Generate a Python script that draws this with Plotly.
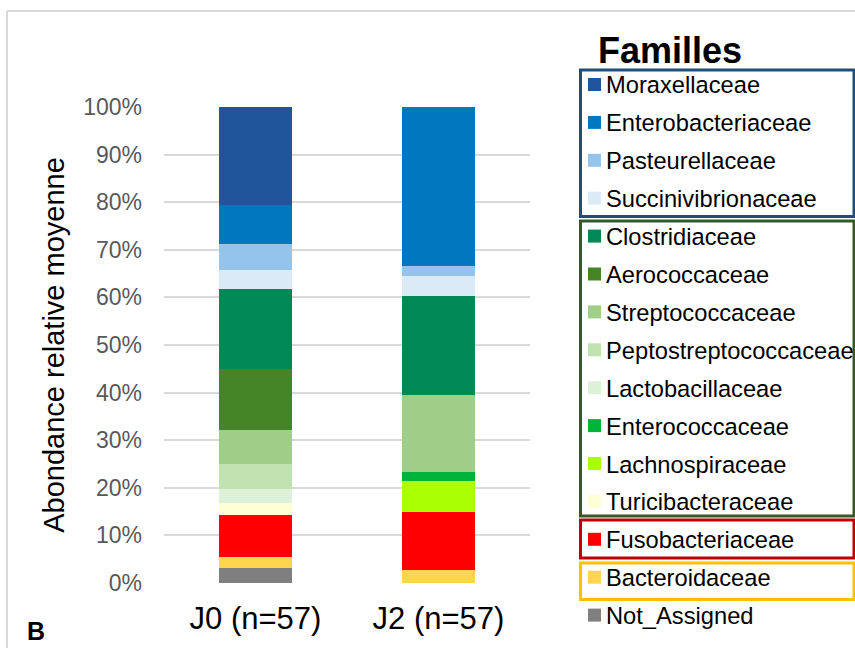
import plotly.graph_objects as go

categories = ["J0 (n=57)", "J2 (n=57)"]

# Families listed top-of-legend first
families = [
    "Moraxellaceae", "Enterobacteriaceae", "Pasteurellaceae", "Succinivibrionaceae",
    "Clostridiaceae", "Aerococcaceae", "Streptococcaceae", "Peptostreptococcaceae",
    "Lactobacillaceae", "Enterococcaceae", "Lachnospiraceae", "Turicibacteraceae",
    "Fusobacteriaceae", "Bacteroidaceae", "Not_Assigned",
]
colors = [
    "#1F559B", "#0077BE", "#95C4EA", "#DAEBF7",
    "#008855", "#468428", "#9FCF87", "#BFE2B0",
    "#DFF0D8", "#00B33B", "#AAFF00", "#FFFFD6",
    "#FF0000", "#FFD54F", "#7F7F7F",
]
# mean relative abundance (%) for J0 and J2
j0_values = [20.5, 8.3, 5.4, 4.0, 16.8, 12.8, 7.2, 5.2, 2.9, 0.0, 0.0, 2.7, 8.8, 2.2, 3.2]
j2_values = [0.0, 33.3, 2.3, 4.0, 20.8, 0.0, 16.2, 0.0, 0.0, 1.9, 6.5, 0.0, 12.2, 2.8, 0.0]

y_ticks = [0, 10, 20, 30, 40, 50, 60, 70, 80, 90, 100]
y_tick_labels = [f"{t}%" for t in y_ticks]

W, H = 855, 648
L, R, T, B = 164, 530, 107, 583  # plot area in pixels


def px(x):
    return (x - L) / (R - L)


def py(y):
    return (B - y) / (B - T)


fig = go.Figure()
# stack from the bottom (Not_Assigned) to the top (Moraxellaceae)
for name, col, a, b in reversed(list(zip(families, colors, j0_values, j2_values))):
    fig.add_trace(go.Bar(
        x=categories, y=[a, b], name=name,
        marker=dict(color=col, line=dict(width=0)),
        showlegend=False,
    ))

shapes = []
annotations = []

# frame lines
shapes.append(dict(type="line", xref="paper", yref="paper", x0=px(7), x1=px(855), y0=py(11), y1=py(11),
                   line=dict(color="#D9D9D9", width=2), layer="below"))
shapes.append(dict(type="line", xref="paper", yref="paper", x0=px(7), x1=px(7), y0=py(11), y1=py(648),
                   line=dict(color="#D9D9D9", width=2), layer="below"))

# manual legend
row0, step = 84.5, 37.9
for i, (name, col) in enumerate(zip(families, colors)):
    yc = row0 + step * i
    shapes.append(dict(type="rect", xref="paper", yref="paper",
                       x0=px(588), x1=px(601), y0=py(yc + 6.5), y1=py(yc - 6.5),
                       fillcolor=col, line=dict(width=0)))
    annotations.append(dict(text=name, xref="paper", yref="paper", x=px(604), y=py(yc + 1),
                            xanchor="left", yanchor="middle", showarrow=False,
                            font=dict(family="Liberation Sans, Arial", size=23.7, color="#000000")))

group_boxes = [
    (70, 216.5, "#1F4E79"),
    (221, 516, "#385723"),
    (520, 558, "#C00000"),
    (563, 599.5, "#FFC000"),
]
for top, bot, col in group_boxes:
    shapes.append(dict(type="rect", xref="paper", yref="paper",
                       x0=px(580.5), x1=px(854), y0=py(bot), y1=py(top),
                       line=dict(color=col, width=3), fillcolor="rgba(0,0,0,0)"))

annotations.append(dict(text="<b>Familles</b>", xref="paper", yref="paper", x=px(669.5), y=py(51),
                        xanchor="center", yanchor="middle", showarrow=False,
                        font=dict(family="Liberation Sans, Arial", size=36, color="#000000")))
annotations.append(dict(text="<b>B</b>", xref="paper", yref="paper", x=px(25), y=py(631),
                        xanchor="left", yanchor="middle", showarrow=False,
                        font=dict(family="Liberation Sans, Arial", size=25, color="#000000")))

fig.update_layout(
    width=W, height=H,
    margin=dict(l=L, r=W - R, t=T, b=H - B),
    barmode="stack", bargap=0.6,
    plot_bgcolor="white", paper_bgcolor="white",
    font=dict(family="Liberation Sans, Arial", color="#000000"),
    shapes=shapes, annotations=annotations,
    showlegend=False,
)
fig.update_xaxes(
    showgrid=False, showline=False, zeroline=False,
    tickfont=dict(size=31, color="#000000"),
    ticklabelstandoff=14,
)
fig.update_yaxes(
    range=[0, 100], tickvals=y_ticks, ticktext=y_tick_labels,
    showgrid=True, gridcolor="#D9D9D9", gridwidth=2,
    zeroline=False, showline=False,
    tickfont=dict(size=23, color="#595959"),
    ticklabelstandoff=21,
    title=dict(text="Abondance relative moyenne", font=dict(size=29, color="#000000"), standoff=10),
)

fig.write_html(
    "out.html",
    config={"displayModeBar": False},
    post_script="document.body.style.margin='0px';document.body.style.overflow='hidden';",
)
